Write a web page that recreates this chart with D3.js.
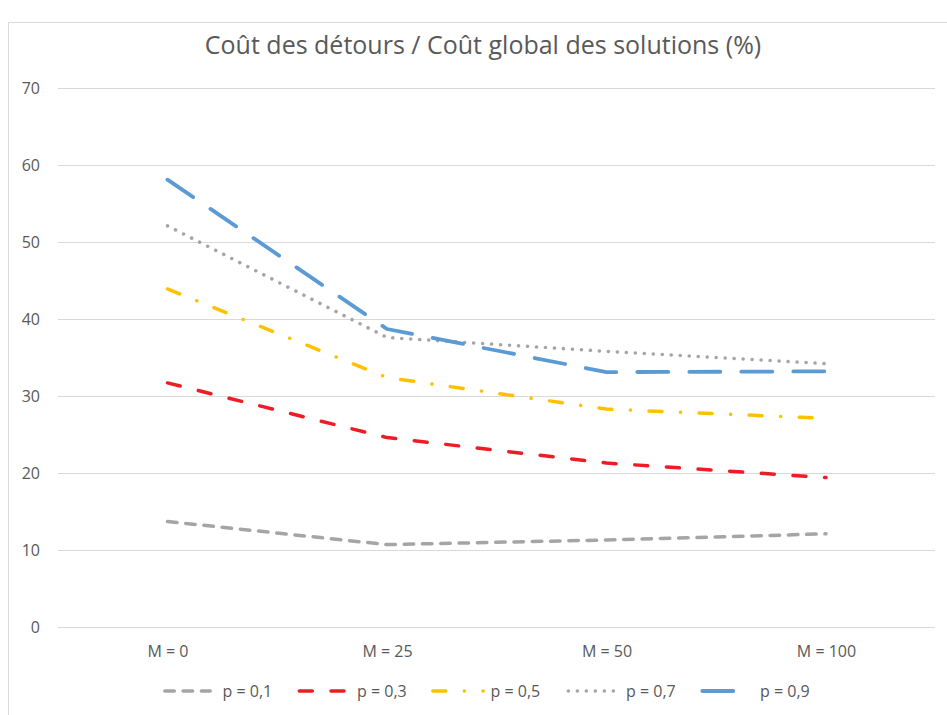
<!DOCTYPE html>
<html><head><meta charset="utf-8">
<script src="https://cdn.jsdelivr.net/npm/d3@7"></script>
<style>body{margin:0;background:#fff;} text{font-family:"Open Sans","Liberation Sans",sans-serif;}</style>
</head><body>
<svg id="c" width="947" height="715"></svg>
<script>
const categories = ["M = 0", "M = 25", "M = 50", "M = 100"];
const seriesNames = ["p = 0,1", "p = 0,3", "p = 0,5", "p = 0,7", "p = 0,9"];
const p01 = [13.7, 10.7, 11.3, 12.1];
const p03 = [31.7, 24.6, 21.3, 19.4];
const p05 = [43.9, 32.4, 28.3, 27.1];
const p07 = [52.1, 37.6, 35.8, 34.2];
const p09 = [58.1, 38.7, 33.1, 33.2];
const yTicks = [0, 10, 20, 30, 40, 50, 60, 70];
const title = "Coût des détours / Coût global des solutions (%)";

const seriesValues = [p01, p03, p05, p07, p09];
const styles = [
  {color: "#A5A5A5", dash: "9.5,8.8", w: 3.5},
  {color: "#EE1C25", dash: "13,18.7", w: 3.5},
  {color: "#FFC000", dash: "13,18.5,0.1,18.5", w: 3.5},
  {color: "#A5A5A5", dash: "0.1,8.9", w: 3.5},
  {color: "#5B9BD5", dash: "31,21", w: 3.8}
];

const svg = d3.select("#c");
const FONT = "'Open Sans','Liberation Sans',sans-serif";
// chart frame
svg.append("rect").attr("x", 8.5).attr("y", 22.5).attr("width", 950).attr("height", 720)
  .attr("fill", "none").attr("stroke", "#D9D9D9").attr("stroke-width", 1);

const x = d3.scalePoint().domain(categories).range([167.5, 826]);
const y = d3.scaleLinear().domain([0, 70]).range([627, 88]);
const left = 58, right = 935;

svg.append("text").attr("x", 483).attr("y", 45).attr("dy", "0.35em").attr("text-anchor", "middle")
  .attr("font-size", 25).attr("fill", "#595959").text(title);

// gridlines
svg.append("g").selectAll("line").data(yTicks).join("line")
  .attr("x1", left).attr("x2", right)
  .attr("y1", d => Math.round(y(d)) + 0.5).attr("y2", d => Math.round(y(d)) + 0.5)
  .attr("stroke", "#D9D9D9").attr("stroke-width", 1);

// y axis labels
const yAxis = d3.axisLeft(y).tickValues(yTicks).tickSize(0).tickPadding(0);
const ya = svg.append("g").attr("transform", "translate(40,0)").call(yAxis);
ya.select(".domain").remove();
ya.selectAll("text").attr("font-size", 16).attr("fill", "#595959").style("font-family", FONT);

// x axis labels
const xAxis = d3.axisBottom(x).tickSize(0).tickPadding(0);
const xa = svg.append("g").attr("transform", "translate(0,651)").call(xAxis);
xa.select(".domain").remove();
xa.selectAll("text").attr("y", 0).attr("dy", "0.35em").attr("font-size", 16).attr("fill", "#595959").style("font-family", FONT);

// lines
const line = d3.line().x((d, i) => x(categories[i])).y(d => y(d));
seriesValues.forEach((vals, k) => {
  svg.append("path").datum(vals).attr("d", line).attr("fill", "none")
    .attr("stroke", styles[k].color).attr("stroke-width", styles[k].w)
    .attr("stroke-dasharray", styles[k].dash).attr("stroke-linecap", "round")
    .attr("stroke-linejoin", "round");
});

// legend
const legX = [163, 297.5, 431, 566.5, 700.5];
const legW = [49, 49.5, 54, 50, 54.5];
const lg = svg.append("g");
seriesNames.forEach((n, k) => {
  const g = lg.append("g").attr("transform", `translate(${legX[k]},691)`);
  g.append("line").attr("x1", 1.8).attr("x2", legW[k] - 1.8).attr("y1", 0).attr("y2", 0)
    .attr("stroke", styles[k].color).attr("stroke-width", styles[k].w)
    .attr("stroke-dasharray", styles[k].dash).attr("stroke-linecap", "round");
  g.append("text").attr("x", 59.5).attr("y", 0).attr("dy", "0.35em").attr("font-size", 16).attr("fill", "#595959").text(n);
});
</script>
</body></html>
